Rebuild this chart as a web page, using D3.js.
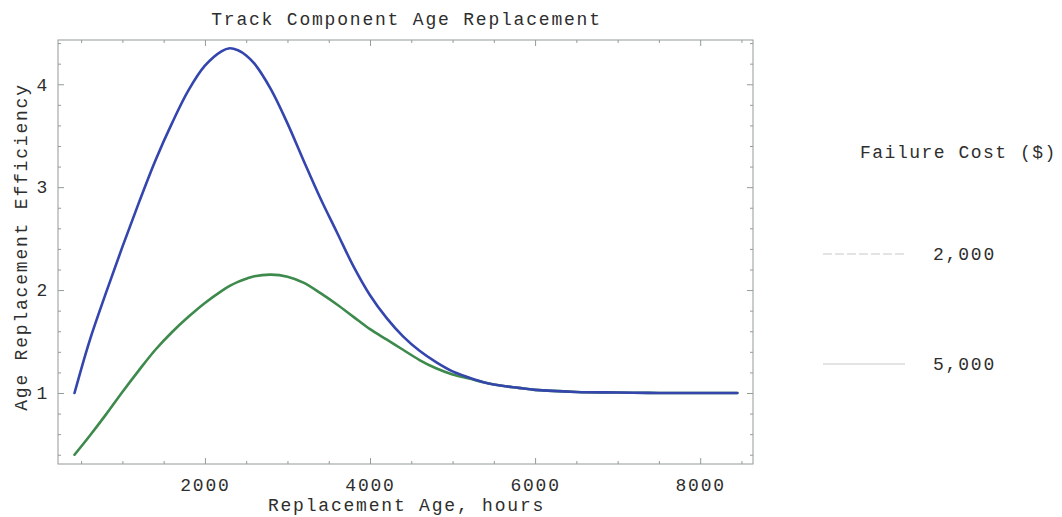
<!DOCTYPE html>
<html>
<head>
<meta charset="utf-8">
<script src="https://cdn.jsdelivr.net/npm/d3@7"></script>
<style>
  html, body { margin: 0; padding: 0; background: #fff; }
  svg text {
    font-family: "Liberation Mono", "Courier New", monospace;
    font-size: 18px;
    letter-spacing: 1.8px;
    fill: #2e2e2e;
  }
</style>
</head>
<body>
<div id="chart"></div>
<script>
//-- data
const ageHours = [420, 600, 800, 1000, 1200, 1400, 1600, 1800, 2000, 2200, 2300, 2400, 2500, 2600, 2800,
  3000, 3200, 3400, 3600, 3800, 4000, 4200, 4400, 4600, 4800, 5000, 5200, 5400, 5600, 5800,
  6000, 6500, 7000, 7500, 8000, 8450];
const efficiency5000 = [1.0, 1.5, 1.97, 2.42, 2.85, 3.26, 3.62, 3.94, 4.18, 4.32, 4.35, 4.33, 4.28, 4.2, 3.95,
  3.62, 3.25, 2.89, 2.56, 2.23, 1.95, 1.73, 1.55, 1.41, 1.3, 1.21, 1.15, 1.1, 1.07, 1.05,
  1.03, 1.01, 1.005, 1.0, 1.0, 1.0];
const efficiency2000 = [0.4, 0.58, 0.79, 1.01, 1.22, 1.42, 1.59, 1.74, 1.875, 1.99, 2.04, 2.08, 2.11, 2.135, 2.15,
  2.13, 2.07, 1.97, 1.86, 1.74, 1.62, 1.52, 1.42, 1.32, 1.24, 1.18, 1.14, 1.1, 1.07, 1.05,
  1.03, 1.01, 1.005, 1.0, 1.0, 1.0];
const seriesNames = ["2,000", "5,000"];
const xMajorTicks = [2000, 4000, 6000, 8000];
const yMajorTicks = [1, 2, 3, 4];

//-- dimensions
const width = 1062;
const height = 517;
const frame = { left: 58, right: 753, top: 40, bottom: 464 };

const svg = d3.select("#chart").append("svg")
  .attr("width", width)
  .attr("height", height);

const x = d3.scaleLinear().domain([220, 8640]).range([frame.left, frame.right]);
const y = d3.scaleLinear().domain([0.31, 4.43]).range([frame.bottom, frame.top]);

const xMinor = d3.range(500, 8640, 500).filter((d) => d % 2000 !== 0);
const yMinor = d3.range(0.4, 4.41, 0.2).map((d) => +d.toFixed(1)).filter((d) => d % 1 !== 0);

const frameColor = "#929c98";

function styleAxis(g) {
  g.select(".domain").remove();
  g.selectAll(".tick line").attr("stroke", frameColor).attr("stroke-width", 1);
  g.selectAll(".tick text").attr("font-family", null).attr("font-size", null);
}

//-- frame
svg.append("rect")
  .attr("x", frame.left).attr("y", frame.top)
  .attr("width", frame.right - frame.left)
  .attr("height", frame.bottom - frame.top)
  .attr("fill", "none")
  .attr("stroke", frameColor)
  .attr("stroke-width", 1);

//-- bottom axis with labels
svg.append("g")
  .attr("transform", `translate(0,${frame.bottom})`)
  .call(d3.axisBottom(x).tickValues(xMajorTicks).tickSize(-6).tickPadding(14).tickFormat(d3.format("d")))
  .call(styleAxis);
svg.append("g")
  .attr("transform", `translate(0,${frame.bottom})`)
  .call(d3.axisBottom(x).tickValues(xMinor).tickSize(-3).tickFormat(""))
  .call(styleAxis);
//-- top axis, ticks only
svg.append("g")
  .attr("transform", `translate(0,${frame.top})`)
  .call(d3.axisTop(x).tickValues(xMajorTicks).tickSize(-6).tickFormat(""))
  .call(styleAxis);
svg.append("g")
  .attr("transform", `translate(0,${frame.top})`)
  .call(d3.axisTop(x).tickValues(xMinor).tickSize(-3).tickFormat(""))
  .call(styleAxis);

//-- left axis with labels
svg.append("g")
  .attr("transform", `translate(${frame.left},0)`)
  .call(d3.axisLeft(y).tickValues(yMajorTicks).tickSize(-6).tickPadding(9).tickFormat(d3.format("d")))
  .call(styleAxis);
svg.append("g")
  .attr("transform", `translate(${frame.left},0)`)
  .call(d3.axisLeft(y).tickValues(yMinor).tickSize(-3).tickFormat(""))
  .call(styleAxis);
//-- right axis, ticks only
svg.append("g")
  .attr("transform", `translate(${frame.right},0)`)
  .call(d3.axisRight(y).tickValues(yMajorTicks).tickSize(-6).tickFormat(""))
  .call(styleAxis);
svg.append("g")
  .attr("transform", `translate(${frame.right},0)`)
  .call(d3.axisRight(y).tickValues(yMinor).tickSize(-3).tickFormat(""))
  .call(styleAxis);

//-- curves
const line = d3.line()
  .x((d) => x(d[0]))
  .y((d) => y(d[1]))
  .curve(d3.curveCatmullRom.alpha(0.5));

const curves = [
  { values: efficiency2000, color: "#3d8a4c" },
  { values: efficiency5000, color: "#3446ad" },
];
curves.forEach((c) => {
  svg.append("path")
    .datum(ageHours.map((h, i) => [h, c.values[i]]))
    .attr("d", line)
    .attr("fill", "none")
    .attr("stroke", c.color)
    .attr("stroke-width", 2.6)
    .attr("stroke-linejoin", "round")
    .attr("stroke-linecap", "round");
});

//-- titles
svg.append("text")
  .attr("x", (frame.left + frame.right) / 2 + 1)
  .attr("y", 25)
  .attr("text-anchor", "middle")
  .text("Track Component Age Replacement");

svg.append("text")
  .attr("x", (frame.left + frame.right) / 2 + 1)
  .attr("y", 511)
  .attr("text-anchor", "middle")
  .text("Replacement Age, hours");

svg.append("text")
  .attr("transform", "translate(27,247) rotate(-90)")
  .attr("text-anchor", "middle")
  .text("Age Replacement Efficiency");

//-- legend
const legend = svg.append("g");
legend.append("text")
  .attr("x", 860).attr("y", 158)
  .style("letter-spacing", "1.5px")
  .text("Failure Cost ($)");

const legendY = d3.scalePoint().domain(seriesNames).range([254, 364]);
seriesNames.forEach((name, i) => {
  legend.append("line")
    .attr("x1", 823).attr("x2", 905)
    .attr("y1", legendY(name)).attr("y2", legendY(name))
    .attr("stroke", "#c6c8c6")
    .attr("stroke-width", 1)
    .attr("stroke-dasharray", i === 0 ? "9,3" : null);
  legend.append("text")
    .attr("x", 933).attr("y", legendY(name) + 6)
    .text(name);
});
</script>
</body>
</html>
